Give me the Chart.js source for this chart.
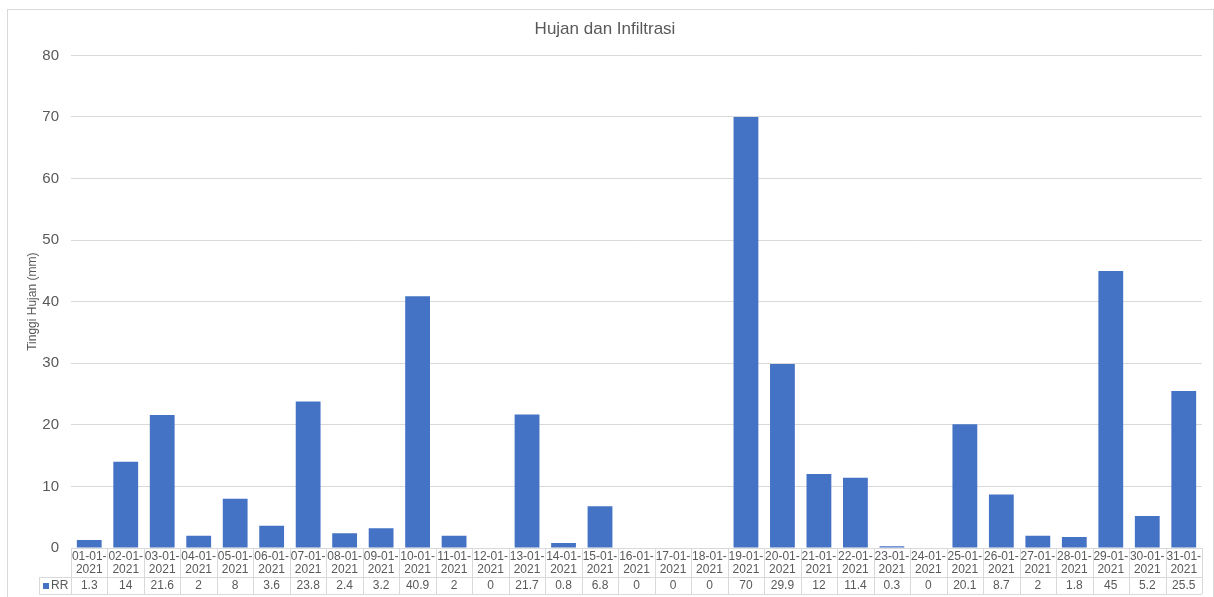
<!DOCTYPE html>
<html>
<head>
<meta charset="utf-8">
<script src="https://cdn.jsdelivr.net/npm/chart.js@4"></script>
<style>
  html, body { margin: 0; padding: 0; background: #fff; }
  #wrap { width: 1214px; height: 597px; }
</style>
</head>
<body>
<div id="wrap"><canvas id="rainChart" width="1214" height="597"></canvas></div>
<script>
// Data
const dates = ['01-01-2021', '02-01-2021', '03-01-2021', '04-01-2021', '05-01-2021', '06-01-2021',
    '07-01-2021', '08-01-2021', '09-01-2021', '10-01-2021', '11-01-2021', '12-01-2021',
    '13-01-2021', '14-01-2021', '15-01-2021', '16-01-2021', '17-01-2021', '18-01-2021',
    '19-01-2021', '20-01-2021', '21-01-2021', '22-01-2021', '23-01-2021', '24-01-2021',
    '25-01-2021', '26-01-2021', '27-01-2021', '28-01-2021', '29-01-2021', '30-01-2021', '31-01-2021'];
const rrValues = [1.3, 14, 21.6, 2, 8, 3.6, 23.8, 2.4, 3.2, 40.9, 2, 0, 21.7, 0.8, 6.8, 0, 0, 0,
    70, 29.9, 12, 11.4, 0.3, 0, 20.1, 8.7, 2, 1.8, 45, 5.2, 25.5];
const yTicks = [0, 10, 20, 30, 40, 50, 60, 70, 80];

const barColor = '#4472C4';
const textColor = '#595959';
const lineColor = '#d9d9d9';
const fontFamily = '"Liberation Sans", Arial, sans-serif';

// Outer chart border
const frame = {
    id: 'frame',
    beforeDraw(chart) {
        const ctx = chart.ctx;
        ctx.save();
        ctx.strokeStyle = lineColor;
        ctx.lineWidth = 1;
        ctx.strokeRect(7.5, 9.5, 1206, 600);
        ctx.restore();
    }
};

// Data table under the x axis
const dataTable = {
    id: 'dataTable',
    afterDraw(chart) {
        const ctx = chart.ctx;
        const x = chart.scales.x;
        const top = chart.chartArea.bottom;
        const rowY = top + 29;
        const bottom = top + 46;
        const step = x.width / dates.length;
        const legendLeft = 39;

        ctx.save();
        ctx.strokeStyle = lineColor;
        ctx.lineWidth = 1;
        ctx.beginPath();
        ctx.moveTo(x.left, top + 0.5);
        ctx.lineTo(x.right, top + 0.5);
        ctx.moveTo(legendLeft, rowY + 0.5);
        ctx.lineTo(x.right, rowY + 0.5);
        ctx.moveTo(legendLeft, bottom + 0.5);
        ctx.lineTo(x.right, bottom + 0.5);
        ctx.moveTo(legendLeft + 0.5, rowY);
        ctx.lineTo(legendLeft + 0.5, bottom);
        for (let i = 0; i <= dates.length; i++) {
            const bx = Math.round(x.getPixelForValue(i) - step / 2) + 0.5;
            ctx.moveTo(bx, top);
            ctx.lineTo(bx, bottom);
        }
        ctx.stroke();

        ctx.fillStyle = textColor;
        ctx.font = '12px ' + fontFamily;
        ctx.textAlign = 'center';
        ctx.textBaseline = 'middle';
        dates.forEach((d, i) => {
            const cx = x.getPixelForValue(i);
            ctx.fillText(d.slice(0, 6), cx, top + 9);
            ctx.fillText(d.slice(6), cx, top + 22);
            ctx.fillText(String(rrValues[i]), cx, rowY + 9);
        });

        // legend key
        ctx.fillStyle = barColor;
        ctx.fillRect(43, rowY + 6, 6, 6);
        ctx.fillStyle = textColor;
        ctx.textAlign = 'left';
        ctx.fillText('RR', 51, rowY + 9);
        ctx.restore();
    }
};

document.addEventListener('DOMContentLoaded', () => {
    const ctx = document.getElementById('rainChart').getContext('2d');
    new Chart(ctx, {
        type: 'bar',
        data: {
            labels: dates,
            datasets: [{
                label: 'RR',
                data: rrValues,
                backgroundColor: barColor,
                borderWidth: 0,
                categoryPercentage: 1,
                barPercentage: 0.68
            }]
        },
        options: {
            responsive: false,
            animation: false,
            layout: { padding: { top: 10, left: 8, right: 12, bottom: 0 } },
            plugins: {
                legend: { display: false },
                tooltip: { enabled: false },
                title: {
                    display: true,
                    text: 'Hujan dan Infiltrasi',
                    color: textColor,
                    font: { family: fontFamily, size: 17, weight: 'normal' },
                    padding: { top: 9, bottom: 16 }
                }
            },
            scales: {
                x: {
                    ticks: { display: false },
                    grid: { display: false },
                    border: { display: false },
                    afterFit(scale) { scale.height = 49; }
                },
                y: {
                    min: 0,
                    max: 80,
                    afterBuildTicks(scale) { scale.ticks = yTicks.map(v => ({ value: v })); },
                    ticks: {
                        color: textColor,
                        padding: 12,
                        font: { family: fontFamily, size: 15 }
                    },
                    grid: { color: lineColor, drawTicks: false },
                    border: { display: false },
                    title: {
                        display: true,
                        text: 'Tinggi Hujan (mm)',
                        color: textColor,
                        font: { family: fontFamily, size: 12 },
                        padding: { top: 17, bottom: 0 }
                    },
                    afterFit(scale) { scale.width = 63; }
                }
            }
        },
        plugins: [frame, dataTable]
    });
});
</script>
</body>
</html>
